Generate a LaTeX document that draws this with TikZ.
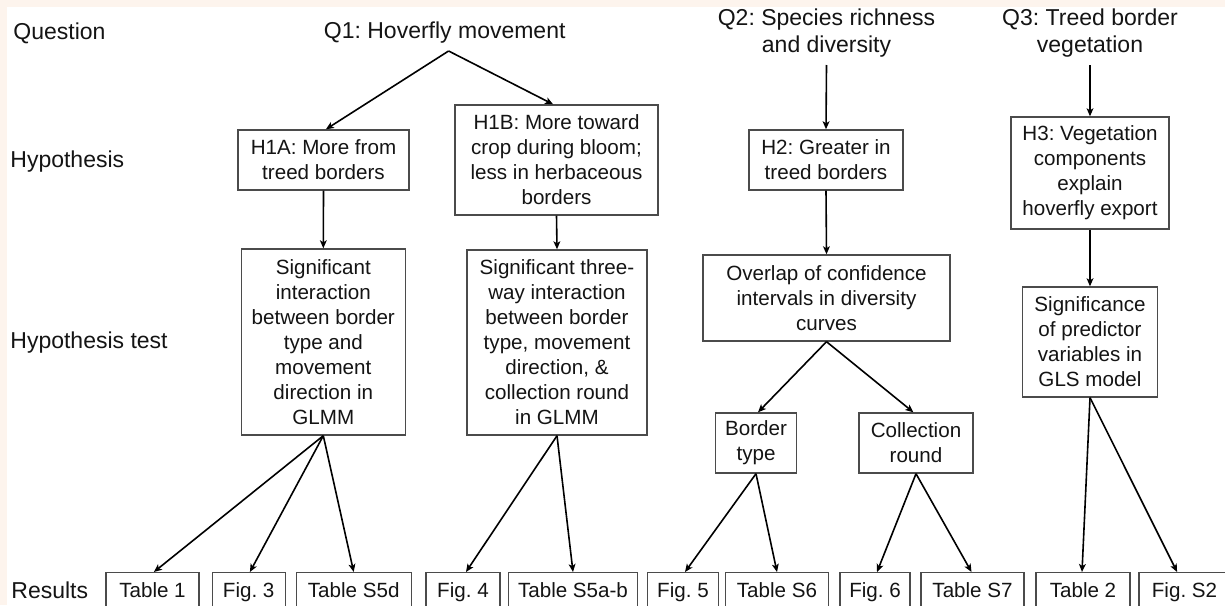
\documentclass[tikz,border=0pt]{standalone}
\usepackage{fontspec}
\setmainfont{Liberation Sans}
\usetikzlibrary{arrows.meta}
\definecolor{peach}{RGB}{253,244,237}
\definecolor{boxline}{RGB}{75,75,75}
\definecolor{ink}{RGB}{20,20,20}
\frenchspacing
\begin{document}
\begin{tikzpicture}[x=0.5pt,y=-0.5pt,
  sz/.style 2 args={minimum width=#1*0.5pt,minimum height=#2*0.5pt},
  box/.style={draw=boxline,line width=0.7pt,inner sep=0pt,align=center,text=ink,font=\fontsize{10.3}{12.5}\selectfont},
  res/.style={box,anchor=north,minimum height=19pt,text height=7.5pt,text depth=2.2pt},
  lab/.style={anchor=west,inner sep=0pt,text=ink,font=\fontsize{11.5}{13.5}\selectfont},
  ques/.style={inner sep=0pt,align=center,text=ink,font=\fontsize{11.5}{13.5}\selectfont},
  arr/.style={-{Stealth[length=4pt,width=3.4pt,inset=1pt]},line width=0.8pt,black}
]
\clip (0,0) rectangle (1225,605);
\fill[white] (0,0) rectangle (1225,605);
\fill[peach] (0,0) rectangle (1225,7);
\fill[peach] (0,0) rectangle (7,605);

% row labels
\node[lab] (lq) at (13,33) {Question};
\node[lab] (lh) at (10,162) {Hypothesis};
\node[lab] (lt) at (10,343) {Hypothesis test};
\node[lab] (lr) at (11,590) {Results};

% questions
\node[ques] (Q1) at (444.7,33) {Q1: Hoverfly movement};
\node[ques] (Q2) at (826.5,33) {Q2: Species richness\\and diversity};
\node[ques] (Q3) at (1090,33) {Q3: Treed border\\vegetation};
\coordinate (q1s) at (448.6,51);
\coordinate (q2s) at (826.5,65);
\coordinate (q3s) at (1090,65);

% hypotheses
\node[box,sz={171}{60}] (H1A) at (323.5,160) {H1A: More from\\treed borders};
\node[box,sz={203}{110}] (H1B) at (556.5,160) {H1B: More toward\\crop during bloom;\\less in herbaceous\\borders};
\node[box,sz={154}{60}] (H2) at (826,160) {H2: Greater in\\treed borders};
\node[box,sz={158}{112}] (H3) at (1090,173) {H3: Vegetation\\components\\explain\\hoverfly export};

% hypothesis tests
\node[box,sz={164}{186}] (T1) at (323.3,342) {Significant\\interaction\\between border\\type and\\movement\\direction in\\GLMM};
\node[box,sz={180}{185}] (T2) at (557,342.5) {Significant three-\\way interaction\\between border\\type, movement\\direction, \&\\collection round\\in GLMM};
\node[box,sz={247}{86}] (OV) at (826.5,298) {Overlap of confidence\\intervals in diversity\\curves};
\node[box,sz={135}{110}] (SG) at (1090,342) {Significance\\of predictor\\variables in\\GLS model};
\node[box,sz={81}{60}] (BT) at (756,443) {Border\\type};
\node[box,sz={114}{60}] (CR) at (916,443) {Collection\\round};

% results
\node[res,sz={93}{38}] (R1) at (152.5,572) {Table 1};
\node[res,sz={73}{38}] (R2) at (248.7,572) {Fig. 3};
\node[res,sz={115}{38}] (R3) at (353.7,572) {Table S5d};
\node[res,sz={74}{38}] (R4) at (463,572) {Fig. 4};
\node[res,sz={129}{38}] (R5) at (573,572) {Table S5a-b};
\node[res,sz={71}{38}] (R6) at (683,572) {Fig. 5};
\node[res,sz={103}{38}] (R7) at (777,572) {Table S6};
\node[res,sz={70}{38}] (R8) at (875,572) {Fig. 6};
\node[res,sz={103}{38}] (R9) at (972.5,572) {Table S7};
\node[res,sz={94}{38}] (R10) at (1083,572) {Table 2};
\node[res,sz={91}{38}] (R11) at (1184.5,572) {Fig. S2};

% connectors
\draw[arr] (q1s) -- ([xshift=1.2pt]H1A.north);
\draw[arr] (q1s) -- ([xshift=-1.7pt]H1B.north);
\draw[arr] (q2s) -- (H2.north);
\draw[arr] (q3s) -- (H3.north);
\draw[arr] (H1A.south) -- (T1.north);
\draw[arr] (H1B.south) -- (T2.north);
\draw[arr] (H2.south) -- (OV.north);
\draw[arr] (H3.south) -- (SG.north);
\draw[arr] (T1.south) -- ([xshift=0.7pt]R1.north);
\draw[arr] (T1.south) -- ([xshift=0.6pt]R2.north);
\draw[arr] (T1.south) -- (R3.north);
\draw[arr] (T2.south) -- ([xshift=1.5pt]R4.north);
\draw[arr] (T2.south) -- (R5.north);
\draw[arr] (OV.south) -- ([xshift=1pt]BT.north);
\draw[arr] (OV.south) -- ([xshift=-1.3pt]CR.north);
\draw[arr] (BT.south) -- ([xshift=1pt]R6.north);
\draw[arr] (BT.south) -- (R7.north);
\draw[arr] (CR.south) -- ([xshift=1pt]R8.north);
\draw[arr] (CR.south) -- ([xshift=-0.5pt]R9.north);
\draw[arr] (SG.south) -- ([xshift=-0.5pt]R10.north);
\draw[arr] (SG.south) -- ([xshift=-3.7pt]R11.north);
\end{tikzpicture}
\end{document}
